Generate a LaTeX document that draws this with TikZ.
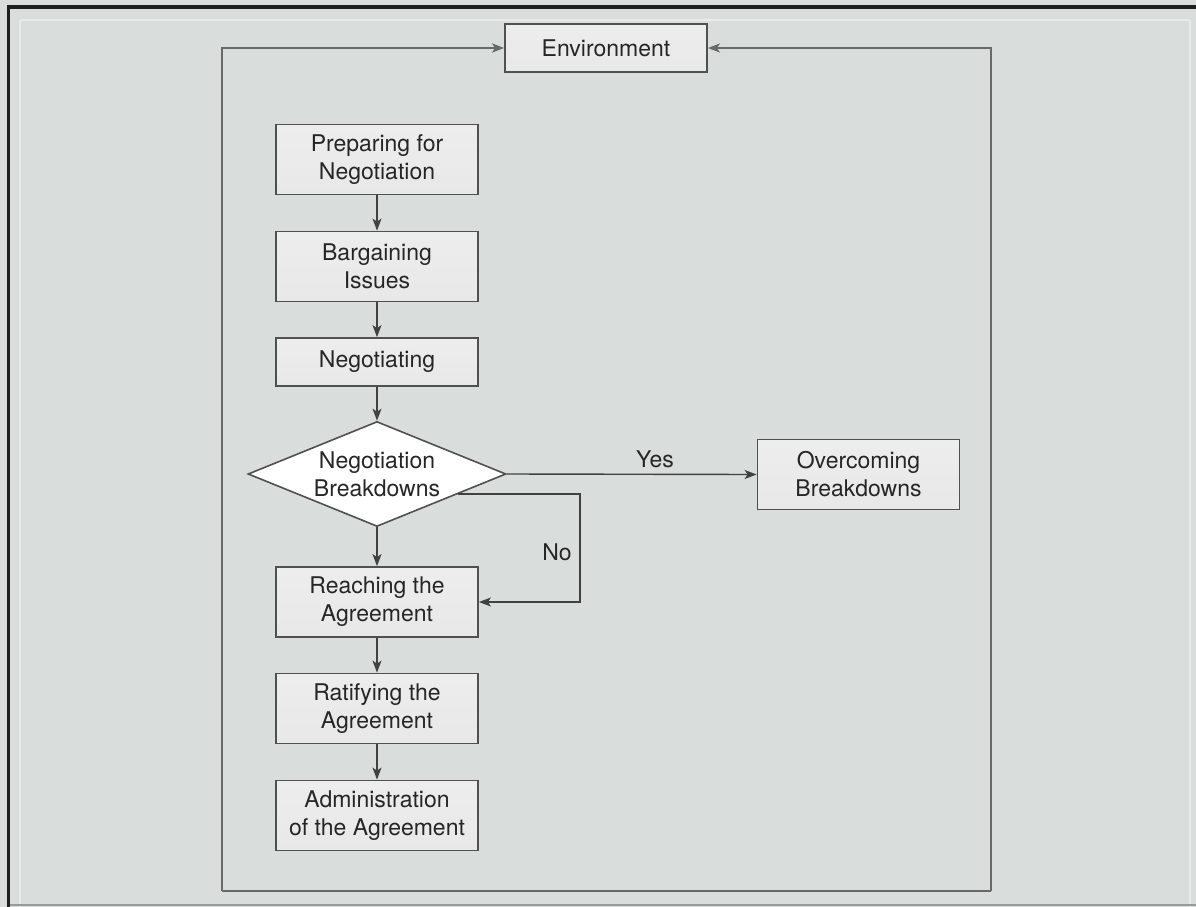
\documentclass[tikz,border=0pt]{standalone}
\usepackage{fontspec}
\setmainfont{TeX Gyre Heros}
\usetikzlibrary{shapes.geometric,arrows.meta,calc}

\definecolor{paper}{RGB}{217,221,220}
\definecolor{ink}{RGB}{38,38,38}
\definecolor{edge}{RGB}{80,80,80}
\definecolor{wire}{RGB}{65,65,65}
\definecolor{framegray}{RGB}{105,105,105}

\begin{document}
\begin{tikzpicture}[x=1pt,y=-1pt,
  every node/.style={font=\fontsize{23}{28}\selectfont, text=ink},
  stage/.style={rectangle, draw=edge, line width=1.8pt,
    minimum width=202pt, minimum height=70pt, inner sep=0pt, align=center,
    top color=black!7, middle color=white, bottom color=black!9},
  stageflat/.style={stage, minimum height=48pt},
  decision/.style={diamond, draw=edge, line width=1.6pt, fill=white,
    aspect=2.46, inner sep=0pt, minimum width=258pt, minimum height=105pt,
    align=center},
  tip/.style={-{Stealth[length=12pt,width=9pt,inset=3pt]}},
  conn/.style={draw=wire, line width=1.4pt, tip},
  frameline/.style={draw=framegray, line width=2pt},
  framearrow/.style={frameline, tip}
]
  % page and scanned edge
  \fill[paper] (0,0) rectangle (1196,907);
  \useasboundingbox (0,0) rectangle (1196,907);
  \fill[black!88] (7,5) rectangle (1196,9);
  \fill[black!88] (7,5) rectangle (10,907);
  \draw[white!40!paper, line width=2pt] (20,20) -- (1190,20);
  \draw[white!40!paper, line width=2pt] (20,20) -- (20,907);
  \draw[white!40!paper, line width=2pt] (1190,20) -- (1190,907);
  \draw[black!30!paper, line width=1.5pt] (10,905) -- (1196,905);

  % stages of the process
  \node[stageflat] (env)    at (606,48)    {Environment};
  \node[stage]     (prep)   at (377,159.5) {Preparing for\\Negotiation};
  \node[stage]     (barg)   at (377,266.5) {Bargaining\\Issues};
  \node[stageflat] (nego)   at (377,362)   {Negotiating};
  \node[decision]  (dia)    at (377,474)   {Negotiation\\Breakdowns};
  \node[stage]     (reach)  at (377,602)   {Reaching the\\Agreement};
  \node[stage]     (ratify) at (377,708.5) {Ratifying the\\Agreement};
  \node[stage]     (admin)  at (377,815.5) {Administration\\of the Agreement};
  \node[stage]     (over)   at (858.5,474.5) {Overcoming\\Breakdowns};

  % main flow
  \draw[conn] (prep) -- (barg);
  \draw[conn] (barg) -- (nego);
  \draw[conn] (nego) -- (dia);
  \draw[conn] (dia) -- (reach);
  \draw[conn] (reach) -- (ratify);
  \draw[conn] (ratify) -- (admin);

  % decision branches
  \draw[conn] (dia.east) -- (over.west);
  \node (yes) at (655,459) {Yes};
  \coordinate (nostart) at ($(dia.east)!0.377!(dia.south)$);
  \coordinate (noturn) at (580,602);
  \draw[conn] (nostart) -| (noturn) -- (reach.east);
  \node (no) at (557,552) {No};

  % surrounding environment loop
  \coordinate (fl) at (222,891);
  \coordinate (fr) at (991,891);
  \draw[frameline] (fl) -- (fr);
  \draw[framearrow] (fl) |- (env.west);
  \draw[framearrow] (fr) |- (env.east);
\end{tikzpicture}
\end{document}
